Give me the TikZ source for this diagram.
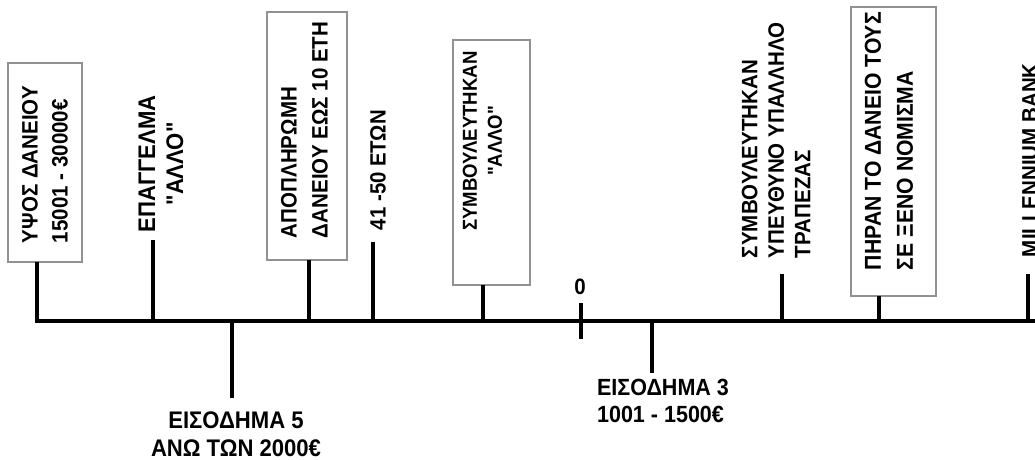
\documentclass[tikz,border=0pt]{standalone}
\usepackage{fontspec}
\setmainfont{Liberation Sans}[Ligatures=TeXOff, FakeStretch=0.92]
\definecolor{boxgray}{RGB}{145,145,145}
\begin{document}
\begin{tikzpicture}[x=1pt,y=-1pt,
  every node/.style={inner sep=0pt, outer sep=0pt},
  fs/.style 2 args={font=\fontsize{#1}{#2}\selectfont\bfseries},
  box/.style={draw=boxgray, line width=1.4pt, fill=white},
  vlbl/.style={rotate=90, align=left, anchor=west},
  vlblc/.style={rotate=90, align=center},
  hlbl/.style={align=center},
  stem/.style={line width=4pt, line join=miter}]
\useasboundingbox (0,0) rectangle (1035,460);
% axis points
\coordinate (a1) at (37,321);
\coordinate (a2) at (153,321);
\coordinate (a3) at (232,321);
\coordinate (a4) at (309,321);
\coordinate (a5) at (373,321);
\coordinate (a6) at (483,321);
\coordinate (a0) at (581,321);
\coordinate (a7) at (652,321);
\coordinate (a8) at (782,321);
\coordinate (a9) at (879,321);
\coordinate (a10) at (1028,321);
\coordinate (aend) at (1040,321);
% free ends of stems
\coordinate (c2) at (153,240);
\coordinate (c3) at (232,398);
\coordinate (c5) at (373,242);
\coordinate (c0t) at (581,303);
\coordinate (c0b) at (581,339);
\coordinate (c7) at (652,373);
\coordinate (c8) at (782,274);
\coordinate (c10) at (1028,274);
% boxes
\node[box, minimum width=74pt, minimum height=199pt] (b1) at (45,162.5) {};
\node[box, minimum width=80pt, minimum height=248pt] (b2) at (307,136) {};
\node[box, minimum width=77pt, minimum height=245pt] (b3) at (491.5,162.5) {};
\node[box, minimum width=85pt, minimum height=289pt] (b4) at (893.5,151.5) {};
% axis and stems
\draw[stem] (b1.south -| a1) -- (a1) -- (aend);
\draw[stem] (c2) -- (a2);
\draw[stem] (a3) -- (c3);
\draw[stem] (b2.south -| a4) -- (a4);
\draw[stem] (c5) -- (a5);
\draw[stem] (b3.south -| a6) -- (a6);
\draw[stem] (c0t) -- (c0b);
\draw[stem] (a7) -- (c7);
\draw[stem] (c8) -- (a8);
\draw[stem] (b4.south -| a9) -- (a9);
\draw[stem] (c10) -- (a10);
% labels
\node[vlbl, fs={22.3}{30}] (t1) at (45,243) {ΥΨΟΣ ΔΑΝΕΙΟΥ\\15001 - 30000€};
\node[vlblc, fs={24}{28}] (t2) at (161,164) {ΕΠΑΓΓΕΛΜΑ\\"ΑΛΛΟ"};
\node[vlbl, fs={22.3}{31}] (t3) at (304.5,238) {ΑΠΟΠΛΗΡΩΜΗ\\ΔΑΝΕΙΟΥ ΕΩΣ 10 ΕΤΗ};
\node[vlbl, fs={22.1}{28}] (t4) at (378,230) {41 -50 ΕΤΩΝ};
\node[vlblc, fs={20.2}{25}] (t5) at (482.5,141) {ΣΥΜΒΟΥΛΕΥΤΗΚΑΝ\\"ΑΛΛΟ"};
\node[fs={22.3}{28}] (t6) at (580,287) {0};
\node[hlbl, fs={24}{28}] (t7) at (236,434) {ΕΙΣΟΔΗΜΑ 5\\ΑΝΩ ΤΩΝ 2000€};
\node[align=left, fs={23.4}{27}] (t8) at (663,401) {ΕΙΣΟΔΗΜΑ 3\\1001 - 1500€};
\node[vlbl, fs={22.3}{26.5}] (t9) at (776,258) {ΣΥΜΒΟΥΛΕΥΤΗΚΑΝ\\ΥΠΕΥΘΥΝΟ ΥΠΑΛΛΗΛΟ\\ΤΡΑΠΕΖΑΣ};
\node[vlbl, fs={23}{32}] (t10) at (889,270) {ΠΗΡΑΝ ΤΟ ΔΑΝΕΙΟ ΤΟΥΣ\\ΣΕ ΞΕΝΟ ΝΟΜΙΣΜΑ};
\node[vlbl, fs={22.3}{28}] (t11) at (1030,257) {MILLENNIUM BANK};
\end{tikzpicture}
\end{document}
